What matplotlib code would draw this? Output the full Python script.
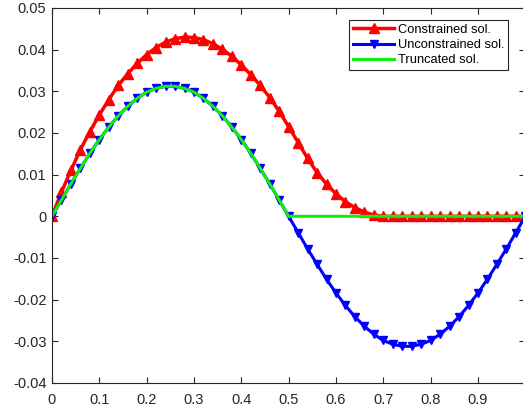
"""Constrained vs unconstrained vs truncated solution."""

import matplotlib.pyplot as plt

x = [round(0.02 * i, 2) for i in range(51)]

constrained = [
    0.0, 0.0058, 0.0110, 0.0160, 0.0203, 0.0243, 0.0280, 0.0314, 0.0342, 0.0367,
    0.0388, 0.0405, 0.0418, 0.0426, 0.0430, 0.0429, 0.0424, 0.0414, 0.0401, 0.0384,
    0.0363, 0.0340, 0.0314, 0.0285, 0.0252, 0.0215, 0.0177, 0.0139, 0.0105, 0.0077,
    0.0054, 0.0035, 0.0021, 0.0010, 0.0003, 0.0, 0.0, 0.0, 0.0, 0.0,
    0.0, 0.0, 0.0, 0.0, 0.0, 0.0, 0.0, 0.0, 0.0, 0.0, 0.0,
]

unconstrained = [
    0.0, 0.0039, 0.0078, 0.0115, 0.0151, 0.0184, 0.0214, 0.0241, 0.0264, 0.0283,
    0.0298, 0.0307, 0.0312, 0.0312, 0.0307, 0.0298, 0.0283, 0.0264, 0.0241, 0.0214,
    0.0184, 0.0151, 0.0115, 0.0078, 0.0039, 0.0, -0.0039, -0.0078, -0.0115, -0.0151,
    -0.0184, -0.0214, -0.0241, -0.0264, -0.0283, -0.0298, -0.0307, -0.0312, -0.0312, -0.0307,
    -0.0298, -0.0283, -0.0264, -0.0241, -0.0214, -0.0184, -0.0151, -0.0115, -0.0078, -0.0039, 0.0,
]

truncated = [
    0.0, 0.0039, 0.0078, 0.0115, 0.0151, 0.0184, 0.0214, 0.0241, 0.0264, 0.0283,
    0.0298, 0.0307, 0.0312, 0.0312, 0.0307, 0.0298, 0.0283, 0.0264, 0.0241, 0.0214,
    0.0184, 0.0151, 0.0115, 0.0078, 0.0039, 0.0, 0.0, 0.0, 0.0, 0.0,
    0.0, 0.0, 0.0, 0.0, 0.0, 0.0, 0.0, 0.0, 0.0, 0.0,
    0.0, 0.0, 0.0, 0.0, 0.0, 0.0, 0.0, 0.0, 0.0, 0.0, 0.0,
]

xticks = [0, 0.1, 0.2, 0.3, 0.4, 0.5, 0.6, 0.7, 0.8, 0.9]
yticks = [-0.04, -0.03, -0.02, -0.01, 0, 0.01, 0.02, 0.03, 0.04, 0.05]

plt.rcParams["font.family"] = ["Liberation Sans", "DejaVu Sans"]

fig = plt.figure(figsize=(5.23, 4.09), dpi=100)
# axes run past the right edge of the figure, as in the cropped original
ax = fig.add_axes([0.0994, 0.0636, 0.905, 0.917])

ax.plot(x, constrained, color="#ff0000", linewidth=2.5, marker="^",
        markersize=7, label="Constrained sol.")
ax.plot(x, unconstrained, color="#0000ff", linewidth=2.2, marker="v",
        markersize=5.5, label="Unconstrained sol.")
ax.plot(x, truncated, color="#11ee11", linewidth=2.2, label="Truncated sol.")

ax.set_xlim(0, 1)
ax.set_ylim(-0.04, 0.05)
ax.set_xticks(xticks)
ax.set_xticklabels([f"{t:g}" for t in xticks])
ax.set_yticks(yticks)
ax.set_yticklabels([f"{t:g}" for t in yticks])

for spine in ax.spines.values():
    spine.set_color("#262626")
    spine.set_linewidth(0.8)
ax.tick_params(direction="in", top=True, right=True, length=4,
               colors="#262626", labelsize=10.5, width=0.8)
ax.tick_params(axis="x", pad=7)
ax.tick_params(axis="y", pad=4)

leg = ax.legend(loc="upper left", bbox_to_anchor=(349 / 523, 1 - 20 / 409),
                bbox_transform=fig.transFigure, fontsize=9.3, fancybox=False,
                framealpha=1, edgecolor="#262626", handlelength=3.2,
                handletextpad=0.3, borderpad=0.3, labelspacing=0.25,
                borderaxespad=0)
leg.get_frame().set_linewidth(0.8)

fig.savefig("out.png", dpi=100)
